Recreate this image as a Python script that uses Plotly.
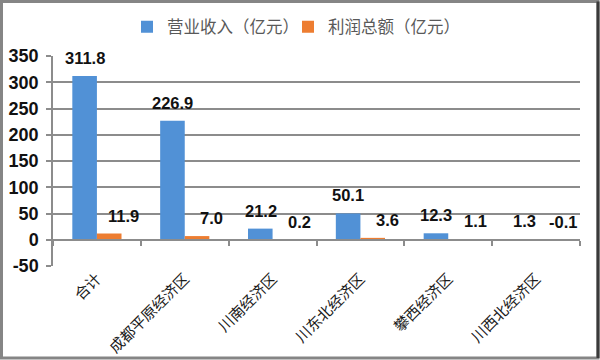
import plotly.graph_objects as go

categories = ["合计", "成都平原经济区", "川南经济区", "川东北经济区", "攀西经济区", "川西北经济区"]
revenue = [311.8, 226.9, 21.2, 50.1, 12.3, 1.3]
profit = [11.9, 7.0, 0.2, 3.6, 1.1, -0.1]
series_names = ["营业收入（亿元）", "利润总额（亿元）"]
y_ticks = [-50, 0, 50, 100, 150, 200, 250, 300, 350]
y_tick_text = ["-50", "0", "50", "100", "150", "200", "250", "300", "350"]

BLUE = "#5191D6"
ORANGE = "#ED7D31"
GRID = "#8C8C8C"

W, H = 600, 360
ML, MR, MT, MB = 53, 20, 56, 94
PW, PH = W - ML - MR, H - MT - MB

fig = go.Figure()
fig.add_trace(go.Bar(x=categories, y=revenue, name=series_names[0], marker_color=BLUE,
                     marker_line_width=0))
fig.add_trace(go.Bar(x=categories, y=profit, name=series_names[1], marker_color=ORANGE,
                     marker_line_width=0))
# helper trace for the category axis drawn at y = 0
fig.add_trace(go.Scatter(x=categories, y=[None] * len(categories), xaxis="x2", yaxis="y",
                         showlegend=False, hoverinfo="skip", mode="lines"))

label_font = dict(family="Liberation Sans, Arial", size=16.5, color="#111111", weight="bold")
for c, v in zip(categories, revenue):
    fig.add_annotation(x=c, y=max(v, 0), text=f"{v:.1f}", showarrow=False,
                       xshift=-12, yshift=18, yanchor="middle", font=label_font)
for c, v in zip(categories, profit):
    fig.add_annotation(x=c, y=max(v, 0), text=f"{v:.1f}", showarrow=False,
                       xshift=27, yshift=18, yanchor="middle", font=label_font)

# outer frame
def px_x(p):
    return (p - ML) / PW

def px_y(p):
    return (H - MB - p) / PH

fig.add_shape(type="rect", xref="paper", yref="paper",
              x0=px_x(1.5), x1=px_x(598), y0=px_y(358), y1=px_y(1.5),
              line=dict(color="#858585", width=3), layer="above")
fig.add_shape(type="line", xref="paper", yref="paper",
              x0=px_x(598), x1=px_x(598), y0=px_y(358), y1=px_y(1.5),
              line=dict(color="#3a3a3a", width=3), layer="above")

zero_pos = (0 - y_ticks[0]) / (y_ticks[-1] - y_ticks[0])

fig.update_layout(
    width=W, height=H,
    margin=dict(l=ML, r=MR, t=MT, b=MB, autoexpand=False),
    paper_bgcolor="white", plot_bgcolor="white",
    barmode="group", bargap=0.44, bargroupgap=0,
    showlegend=True,
    legend=dict(orientation="h", x=0.48, xref="container", xanchor="center",
                y=1 - 27 / H, yref="container", yanchor="middle",
                bgcolor="rgba(0,0,0,0)",
                font=dict(family="Noto Sans CJK SC", size=16.5, color="#595959"),
                itemwidth=30, entrywidth=116, traceorder="normal"),
    xaxis=dict(type="category", categoryorder="array", categoryarray=categories,
               range=[-0.5, len(categories) - 0.5], automargin=False,
               showline=False, ticks="", showgrid=False, tickangle=-45,
               tickfont=dict(family="Noto Sans CJK SC", size=15, color="#1a1a1a")),
    xaxis2=dict(type="category", categoryorder="array", categoryarray=categories,
                range=[-0.5, len(categories) - 0.5], overlaying="x",
                anchor="free", position=zero_pos, side="bottom", automargin=False,
                showline=True, linecolor=GRID, linewidth=1.5,
                ticks="outside", ticklen=5, tickcolor=GRID, tickwidth=1.5,
                tickson="boundaries", showticklabels=False, showgrid=False),
    yaxis=dict(range=[y_ticks[0], y_ticks[-1]], tickvals=y_ticks, ticktext=y_tick_text,
               showgrid=True, gridcolor=GRID, gridwidth=1.5, automargin=False,
               showline=True, linecolor=GRID, linewidth=1.5,
               ticks="outside", ticklen=5, tickcolor=GRID, tickwidth=1.5,
               zeroline=False, ticklabelstandoff=4,
               tickfont=dict(family="Liberation Sans, Arial", size=18, color="#111111",
                             weight="bold")),
)

fig.write_html("out.html", config={"displayModeBar": False},
               post_script="document.body.style.margin='0';")
